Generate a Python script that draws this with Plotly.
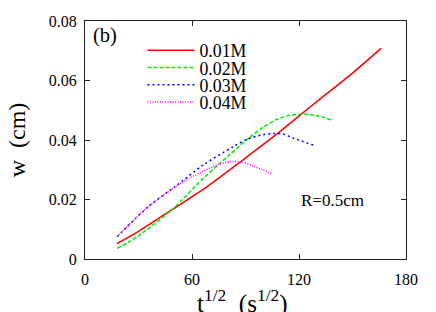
import plotly.graph_objects as go

# ---- data ----
series_names = ["0.01M", "0.02M", "0.03M", "0.04M"]

t_01 = [18, 30, 48.6, 67.3, 89, 108, 121.5, 131, 150, 166]
w_01 = [0.0052, 0.0093, 0.0165, 0.0238, 0.0335, 0.0422, 0.0488, 0.0534, 0.0625, 0.0708]

t_02 = [18, 24, 30, 48.6, 66.3, 74, 81, 92.5, 100, 107.5, 114, 121, 130, 138.4]
w_02 = [0.0036, 0.0055, 0.0078, 0.0165, 0.0271, 0.0313, 0.0350, 0.0410, 0.0443, 0.0469, 0.0482, 0.0487, 0.0482, 0.0467]

t_03 = [18, 35.5, 50.5, 66.3, 83, 91, 100, 105.6, 111, 117, 128]
w_03 = [0.0075, 0.0176, 0.0243, 0.0316, 0.0377, 0.0403, 0.0418, 0.0422, 0.0420, 0.0406, 0.0383]

t_04 = [18, 35.5, 50.5, 58, 66.3, 75, 82, 88, 94, 100, 104.7]
w_04 = [0.0075, 0.0176, 0.0242, 0.0270, 0.0295, 0.0318, 0.0327, 0.0326, 0.0313, 0.0299, 0.0286]

x_ticks = [0, 60, 120, 180]
y_ticks = [0, 0.02, 0.04, 0.06, 0.08]
y_tick_text = ["0", "0.02", "0.04", "0.06", "0.08"]

FONT = "Liberation Serif"

styles = [
    dict(color="#ff0000", dash="solid"),
    dict(color="#00ee00", dash="4px,2px"),
    dict(color="#0000ff", dash="2px,3px"),
    dict(color="#ff00ff", dash="1px,1.5px"),
]
xs = [t_01, t_02, t_03, t_04]
ys = [w_01, w_02, w_03, w_04]
legend_ids = ["legend", "legend2", "legend3", "legend4"]
legend_rows = [0.875, 0.8025, 0.730, 0.658]

fig = go.Figure()
for name, x, y, st, lid in zip(series_names, xs, ys, styles, legend_ids):
    fig.add_trace(go.Scatter(
        x=x, y=y, mode="lines", name=name, legend=lid,
        line=dict(color=st["color"], dash=st["dash"], width=1.5, shape="spline", smoothing=0.8),
    ))

layout_legends = {}
for lid, yr in zip(legend_ids, legend_rows):
    layout_legends[lid] = dict(
        x=0.179, y=yr, xanchor="left", yanchor="middle", visible=True,
        bgcolor="rgba(0,0,0,0)", borderwidth=0, itemwidth=47,
        font=dict(family=FONT, size=17.8, color="black"),
    )

axis_common = dict(
    showline=True, linecolor="#222222", linewidth=1, mirror="ticks",
    ticks="inside", ticklen=5, tickwidth=1, tickcolor="#222222",
    showgrid=False, zeroline=False, automargin=False,
    tickfont=dict(family=FONT, size=16, color="black"),
)

fig.update_layout(
    width=436, height=312,
    margin=dict(l=85, r=30, t=21, b=53),
    paper_bgcolor="white", plot_bgcolor="white",
    font=dict(family=FONT, color="black"),
    showlegend=True,
    xaxis=dict(range=[0, 180], tickvals=x_ticks, ticktext=[str(v) for v in x_ticks],
               ticklabelstandoff=6,
               **axis_common),
    yaxis=dict(range=[0, 0.08], tickvals=y_ticks, ticktext=y_tick_text,
               ticklabelstandoff=4,
               title=dict(text="w  (cm)", font=dict(family=FONT, size=24), standoff=16),
               **axis_common),
    annotations=[
        dict(text="t<sup>1/2</sup>  (s<sup>1/2</sup>)", xref="paper", yref="paper",
             x=0.49, y=0, xanchor="center", yanchor="top", yshift=-24, showarrow=False,
             font=dict(family=FONT, size=25, color="black")),
        dict(text="(b)", xref="paper", yref="paper", x=0.018, y=0.939,
             xanchor="left", yanchor="middle", showarrow=False,
             font=dict(family=FONT, size=20.5, color="black")),
        dict(text="R=0.5cm", xref="x", yref="y", x=120, y=0.0198,
             xanchor="left", yanchor="middle", showarrow=False,
             font=dict(family=FONT, size=17, color="black")),
    ],
    **layout_legends,
)

fig.write_html(
    "out.html",
    config={"displayModeBar": False},
    post_script="document.body.style.margin='0';document.body.style.overflow='hidden';",
)
